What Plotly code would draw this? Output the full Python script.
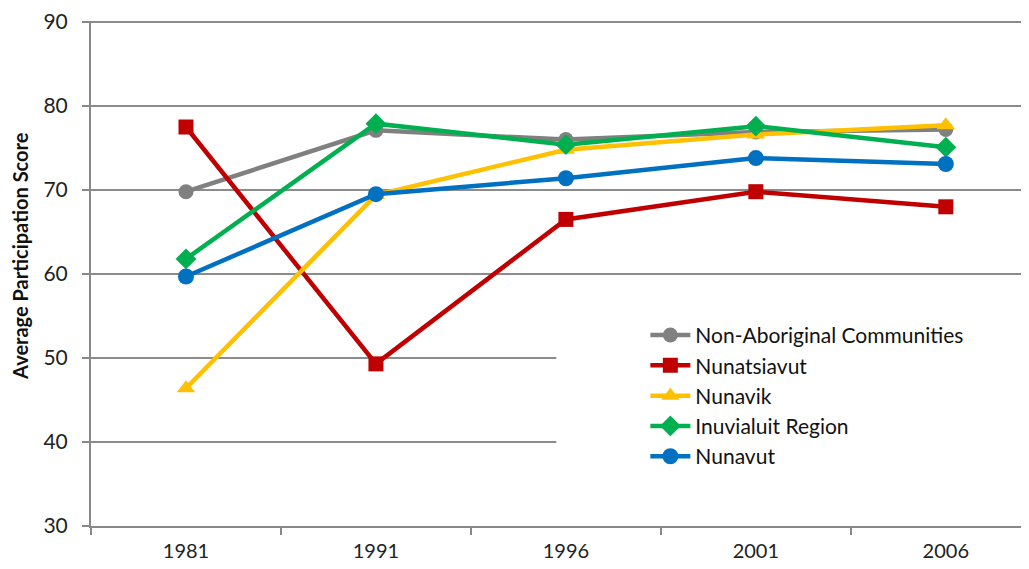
import plotly.graph_objects as go

years = ["1981", "1991", "1996", "2001", "2006"]
non_aboriginal = [69.8, 77.1, 76.0, 76.9, 77.2]
nunatsiavut = [77.5, 49.3, 66.5, 69.8, 68.0]
nunavik = [46.4, 69.4, 74.8, 76.6, 77.7]
inuvialuit = [61.8, 77.9, 75.4, 77.6, 75.1]
nunavut = [59.7, 69.5, 71.4, 73.8, 73.1]

series = [
    ("Non-Aboriginal Communities", non_aboriginal, "#808080", "circle", 15),
    ("Nunatsiavut", nunatsiavut, "#C00000", "square", 15),
    ("Nunavik", nunavik, "#FFC000", "triangle-up", 16),
    ("Inuvialuit Region", inuvialuit, "#00B050", "diamond", 16),
    ("Nunavut", nunavut, "#0070C0", "circle", 16),
]

FONT = "Lato"
fig = go.Figure()
for i, (name, vals, color, sym, size) in enumerate(series):
    fig.add_trace(go.Scatter(
        x=years, y=vals, name=name, mode="lines+markers",
        line=dict(color=color, width=4.5),
        marker=dict(color=color, symbol=sym, size=size, line=dict(width=0)),
        legendgroup=f"g{i}",
    ))

# white area behind the legend hiding gridlines
fig.add_shape(type="rect", xref="x", yref="y", x0=1.95, x1=4.6, y0=33.5, y1=56,
              fillcolor="white", line=dict(width=0), layer="between")

# y-axis title as an annotation (offset above centre as in the reference)
fig.add_annotation(text="<b>Average Participation Score</b>", xref="paper", yref="paper",
                   x=-0.075, y=0.535, xanchor="center", yanchor="middle", textangle=-90,
                   showarrow=False, font=dict(family=FONT, size=20, color="#111111"))

fig.update_layout(
    width=1029, height=569,
    margin=dict(l=83, r=0, t=10, b=51),
    paper_bgcolor="white", plot_bgcolor="white",
    font=dict(family=FONT, size=18, color="#222222"),
    showlegend=True,
    legend=dict(x=0.586, y=0.418, xanchor="left", yanchor="top",
                bgcolor="rgba(0,0,0,0)", font=dict(family=FONT, size=21, color="#111111"),
                tracegroupgap=0, itemwidth=40),
    xaxis=dict(type="category", range=[-0.5, 4.48], showgrid=False,
               showline=True, linecolor="#888888", linewidth=2,
               ticks="outside", tickson="boundaries", ticklen=7, tickcolor="#888888", tickwidth=1.5,
               ticklabelstandoff=6,
               tickfont=dict(family=FONT, size=20, color="#222222")),
    yaxis=dict(range=[30, 90.12], dtick=10, showgrid=True, gridcolor="#8c8c8c", gridwidth=2,
               showline=True, linecolor="#888888", linewidth=2, zeroline=False,
               ticks="outside", ticklen=7, tickcolor="#888888", tickwidth=1.5,
               ticklabelstandoff=10, ticklabeloverflow="allow",
               tickfont=dict(family=FONT, size=21, color="#222222")),
)

fig.write_html("out.html")
